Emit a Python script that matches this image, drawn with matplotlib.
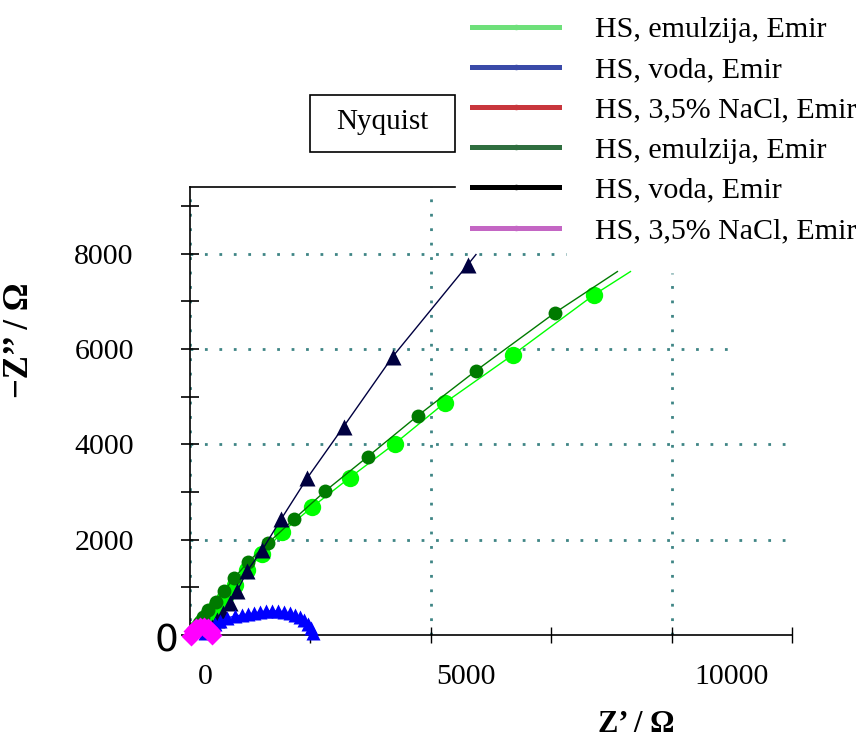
import matplotlib.pyplot as plt
from matplotlib.lines import Line2D
from matplotlib.patches import Rectangle

plt.rcParams['font.family'] = ['Liberation Serif', 'DejaVu Serif']

# HS, emulzija (light green) - last value is line end only
emul_a_re = [146, 250, 375, 542, 729, 938, 1188, 1500, 1917, 2542, 3313, 4250, 5292, 6708, 8396, 9146]
emul_a_im = [147, 273, 420, 588, 798, 1050, 1366, 1702, 2164, 2689, 3298, 4013, 4874, 5882, 7143, 7626]

# HS, emulzija (dark green)
emul_b_re = [125, 188, 271, 375, 542, 708, 917, 1208, 1625, 2167, 2813, 3688, 4729, 5938, 7583, 8875]
emul_b_im = [147, 252, 378, 525, 693, 924, 1197, 1534, 1933, 2437, 3025, 3739, 4601, 5546, 6765, 7626]

# HS, voda (navy triangles)
voda_b_re = [354, 458, 563, 688, 833, 979, 1188, 1500, 1896, 2438, 3188, 4208, 5771, 5938]
voda_b_im = [63, 168, 315, 462, 672, 924, 1345, 1786, 2437, 3298, 4370, 5840, 7773, 7983]

# HS, voda (blue semicircle)
voda_a_re = [313, 417, 521, 625, 771, 938, 1083, 1208, 1333, 1458, 1583, 1708, 1833,
             1958, 2083, 2188, 2292, 2375, 2458, 2521, 2563]
voda_a_im = [42, 147, 231, 294, 357, 399, 420, 441, 462, 483, 504, 504, 504,
             483, 462, 420, 378, 315, 231, 147, 42]

# HS, 3,5% NaCl (red, mostly hidden)
nacl_a_re = [30, 80, 150, 230, 300, 380, 420]
nacl_a_im = [0, 40, 80, 100, 90, 50, -10]

# HS, 3,5% NaCl (magenta)
nacl_b_re = [21, 62, 125, 208, 291, 374, 436, 457]
nacl_b_im = [-21, 84, 147, 168, 168, 147, 84, 0]

legend_labels = ["HS, emulzija, Emir", "HS, voda, Emir", "HS, 3,5% NaCl, Emir",
                 "HS, emulzija, Emir", "HS, voda, Emir", "HS, 3,5% NaCl, Emir"]
legend_colors = ["#6ee07a", "#3a4aa8", "#c8363c", "#2f6e3f", "#000000", "#c466c4"]

fig = plt.figure(figsize=(8.63, 7.41), dpi=100)
ax = fig.add_axes([190 / 863, 1 - 635 / 741, 602 / 863, 448 / 741])

# partial dotted grid as in the original
grid_kw = dict(color="#3f8585", lw=2, linestyle=(0, (1, 4.2)), zorder=0)
ax.hlines([2000, 4000], 0, 12400, **grid_kw)
ax.hlines(6000, 0, 11200, **grid_kw)
ax.hlines(8000, 0, 7800, **grid_kw)
ax.vlines([0, 5000], 0, 9400, **grid_kw)
ax.vlines(10000, 0, 7600, **grid_kw)

ax.plot(emul_a_re, emul_a_im, color="#00ff00", lw=1, marker="o", ms=12.5, mec="none",
        markevery=list(range(len(emul_a_re) - 1)), zorder=2)
ax.plot(emul_b_re, emul_b_im, color="#007a00", lw=1, marker="o", ms=10, mec="none",
        markevery=list(range(len(emul_b_re) - 1)), zorder=3)
ax.plot(voda_b_re, voda_b_im, color="#000040", lw=1, marker="^", ms=12, mec="none",
        markevery=list(range(len(voda_b_re) - 1)), zorder=4)
ax.plot(voda_a_re, voda_a_im, color="#0000ff", lw=1, marker="^", ms=10, mec="none", zorder=5,
        clip_on=False)
ax.plot(nacl_a_re, nacl_a_im, color="#ff0000", lw=1, marker="o", ms=4, mec="none", zorder=6,
        clip_on=False)
ax.plot(nacl_b_re, nacl_b_im, color="#ff00ff", lw=1, marker="D", ms=10.5, mec="none", zorder=7,
        clip_on=False)

ax.set_xlim(0, 12500)
ax.set_ylim(0, 9400)

ax.spines["right"].set_visible(False)
ax.spines["top"].set_bounds(0, 5500)
for s in ["left", "bottom", "top"]:
    ax.spines[s].set_linewidth(1.2)

# label positions are offset from the tick marks in the original figure
ax.set_xticks([312, 5729, 11250], ["0", "5000", "10000"])
ax.set_xticks(range(0, 12501, 2500), minor=True)
ax.tick_params(axis="x", which="major", length=0, pad=21, labelsize=21.5)
ax.tick_params(axis="x", which="minor", direction="inout", length=12, width=1)

ax.set_yticks([2000, 4000, 6000, 8000])
ax.set_yticks(range(0, 9001, 1000), minor=True)
ax.tick_params(axis="y", which="both", direction="inout", length=13, width=1.2)
ax.tick_params(axis="y", which="major", pad=34, labelsize=21.5)

fig.text(166 / 863, 1 - 642 / 741, "0", family="DejaVu Sans", fontsize=27,
         ha="center", va="center")
fig.text(20 / 863, 1 - 340 / 741, "\u2212Z\u2019\u2019 / \u03a9", rotation=90, fontsize=25,
         fontweight="bold", ha="center", va="center")
fig.text(636 / 863, 1 - 724 / 741, "Z\u2019 / \u03a9", fontsize=22, fontweight="bold",
         ha="center", va="center")

fig.add_artist(Rectangle((310 / 863, 1 - 152 / 741), 145 / 863, 57 / 741,
                         transform=fig.transFigure, fill=False, lw=1.2, ec="black"))
fig.text(382 / 863, 1 - 122 / 741, "Nyquist", fontsize=21, ha="center", va="center")

handles = [Line2D([], [], color=c, lw=3.6, marker="o", ms=3) for c in legend_colors]
fig.legend(handles, legend_labels, loc="upper left", bbox_to_anchor=(469 / 863, 1 - 13 / 741),
           frameon=False, fontsize=21.6,
           handlelength=2.9, handletextpad=1.2, labelspacing=0.44, borderpad=0.1,
           borderaxespad=0, numpoints=1)

fig.savefig("out.png", dpi=100)
